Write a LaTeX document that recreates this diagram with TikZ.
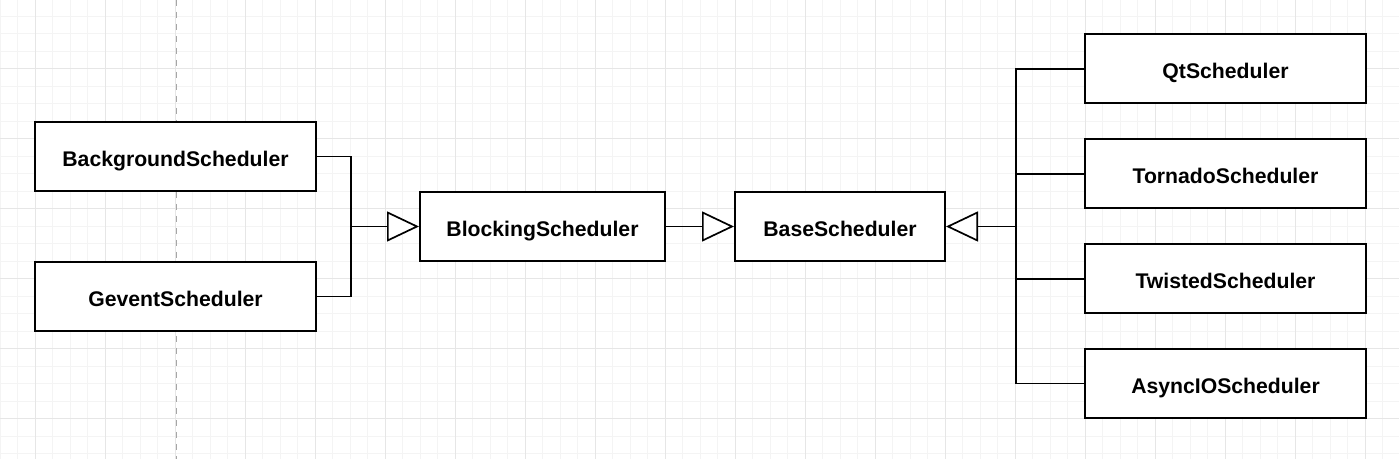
\documentclass[tikz,border=0pt]{standalone}
\usepackage{fontspec}
\setmainfont{Liberation Sans}
\usetikzlibrary{arrows.meta}
\definecolor{gridminor}{HTML}{F4F4F4}
\definecolor{gridmajor}{HTML}{E6E6E6}
\tikzset{
  cls/.style={draw=black, line width=1pt, fill=white, inner sep=0pt,
    minimum width=140.5pt, minimum height=34.5pt,
    text height=10pt, text depth=0pt,
    font=\fontsize{10.6}{12}\selectfont\bfseries},
  link/.style={draw=black, line width=0.85pt},
  inh/.style={link, -{Triangle[open, fill=white, length=16pt, width=15pt, line width=0.85pt]}}
}
\begin{document}
\begin{tikzpicture}[x=0.5pt, y=-0.5pt]
\useasboundingbox (0,0) rectangle (1399,459);
\fill[white] (0,0) rectangle (1399,459);

%grid
\foreach \x in {0,17.5,...,1399} \draw[gridminor, line width=0.5pt] (\x,0) -- (\x,459);
\foreach \y in {16.5,34,...,459} \draw[gridminor, line width=0.5pt] (0,\y) -- (1399,\y);
\foreach \x in {35,105,...,1399} \draw[gridmajor, line width=0.5pt] (\x,0) -- (\x,459);
\foreach \y in {-1,69,...,459} \draw[gridmajor, line width=0.5pt] (0,\y) -- (1399,\y);
\draw[gray!70, dashed, line width=0.5pt] (176,0) -- (176,459);

\node[cls] (bg) at (175.5,156.5) {BackgroundScheduler};
\node[cls] (gv) at (175.5,296.5) {GeventScheduler};
\node[cls, minimum width=122.5pt] (blk) at (542.5,226.5) {BlockingScheduler};
\node[cls, minimum width=105pt] (base) at (840,226.5) {BaseScheduler};

\node[cls] (qt) at (1225.5,69) {QtScheduler};
\node[cls] (tor) at (1225.5,174) {TornadoScheduler};
\node[cls] (tw) at (1225.5,279) {TwistedScheduler};
\node[cls] (aio) at (1225.5,383.5) {AsyncIOScheduler};

\coordinate (jl) at (351,226.5);
\coordinate (jr) at (1016,226.5);

\draw[link] (bg.east) -| (jl);
\draw[link] (gv.east) -| (jl);
\draw[inh] (jl) -- (blk.west);

\draw[inh] (blk.east) -- (base.west);

\draw[link] (qt.west) -| (jr);
\draw[link] (tor.west) -- (tor.west -| jr);
\draw[link] (tw.west) -| (jr);
\draw[link] (aio.west) -| (jr);
\draw[inh] (jr) -- (base.east);

\end{tikzpicture}
\end{document}
